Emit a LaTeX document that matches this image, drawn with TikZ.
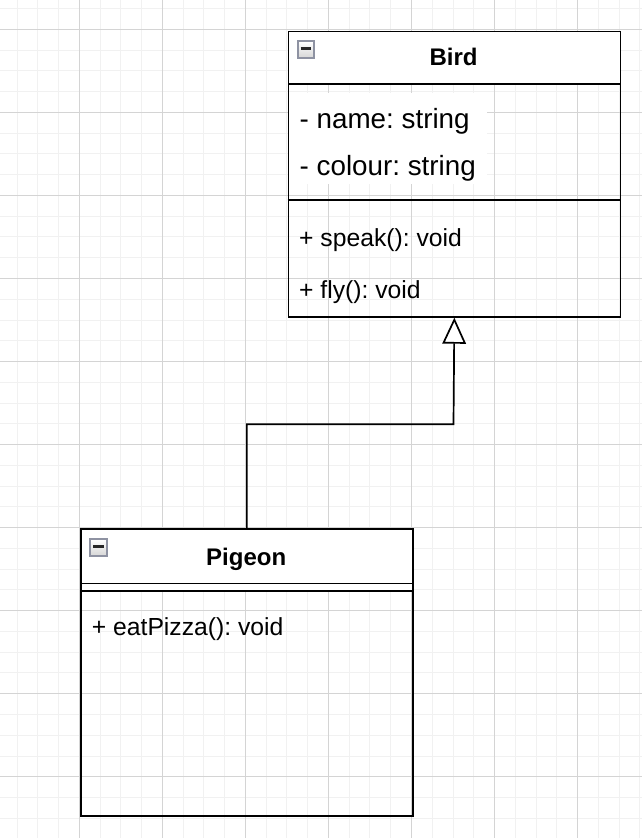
\documentclass[tikz,border=0pt]{standalone}
\usepackage{fontspec}
\setmainfont{Liberation Sans}
\usetikzlibrary{arrows.meta}
\definecolor{minorgridc}{HTML}{F1F1F1}
\definecolor{majorgridc}{HTML}{D4D4D4}
\definecolor{iconedge}{HTML}{8E92A2}
\frenchspacing
\begin{document}
\begin{tikzpicture}[x=1pt,y=-1pt,
  minorline/.style={draw=minorgridc, line width=1pt},
  majorline/.style={draw=majorgridc, line width=1pt},
  classbox/.style={draw=black, line width=1.7pt, minimum width=332pt, inner sep=0pt, anchor=north west},
  headbox/.style={classbox, fill=white},
  sepline/.style={draw=black, line width=1.7pt},
  iconbox/.style={draw=iconedge, line width=1.6pt, minimum size=16.5pt, inner sep=0pt, top color=white, bottom color=black!16},
  iconbar/.style={draw=black!85, line width=2.4pt},
  titletext/.style={font=\fontsize{24}{28}\selectfont\bfseries, inner sep=0pt, anchor=base},
  attrtext/.style={font=\fontsize{27.8}{32}\selectfont, inner sep=0pt, anchor=base west},
  methtext/.style={font=\fontsize{24.7}{30}\selectfont, inner sep=0pt, anchor=base west},
  conn/.style={draw=black, line width=1.7pt, -{Triangle[open, fill=white, length=26pt, width=23.5pt]}}
]
\useasboundingbox (0,0) rectangle (642,838);
% grid
\begin{scope}
\clip (0,0) rectangle (642,838);
\foreach \i in {0,...,31} \draw[minorline] ({-3.75+\i*20.7625},0) -- ({-3.75+\i*20.7625},838);
\foreach \j in {0,...,41} \draw[minorline] (0,{-12.2+\j*20.7625}) -- (642,{-12.2+\j*20.7625});
\foreach \i in {0,...,8} \draw[majorline] ({-3.75+\i*83.05},0) -- ({-3.75+\i*83.05},838);
\foreach \j in {0,...,11} \draw[majorline] (0,{-53.75+\j*83.05}) -- (642,{-53.75+\j*83.05});
\end{scope}

% Bird class
\fill[white] (288.2,93) rectangle (487,184);
\node[headbox, minimum height=52.6pt] (birdhead) at (287.5,30.7) {};
\node[classbox, minimum height=285.3pt] (bird) at (287.5,30.7) {};
\draw[sepline] (287.5,200) -- (619.5,200);
\node[iconbox] (birdicon) at (306,49.5) {};
\draw[iconbar] ([xshift=-5.3pt,yshift=1pt]birdicon.center) -- ([xshift=5.3pt,yshift=1pt]birdicon.center);
\node[titletext] (birdtitle) at (453.5,65) {Bird};
\node[attrtext] (birdname) at (299.5,128) {- name: string};
\node[attrtext] (birdcolour) at (299.5,175) {- colour: string};
\node[methtext] (birdspeak) at (299,246.7) {+ speak(): void};
\node[methtext] (birdfly) at (299,298) {+ fly(): void};

% Pigeon class
\fill[white] (80,582.7) rectangle (412.3,590.7);
\node[headbox, minimum height=54.4pt] (pigeonhead) at (80,528.3) {};
\node[classbox, minimum height=286.7pt] (pigeon) at (80,528.3) {};
\draw[sepline] (80,590.7) -- (412.3,590.7);
\node[iconbox] (pigeonicon) at (98.5,547.5) {};
\draw[iconbar] ([xshift=-5.3pt,yshift=1pt]pigeonicon.center) -- ([xshift=5.3pt,yshift=1pt]pigeonicon.center);
\node[titletext] (pigeontitle) at (246.2,565) {Pigeon};
\node[methtext] (pigeoneat) at (91.7,635) {+ eatPizza(): void};

% generalization
\coordinate (bend) at (453.5,424.3);
\draw[conn] (pigeon.north) |- (bend) -- (bird.south);
\end{tikzpicture}
\end{document}
